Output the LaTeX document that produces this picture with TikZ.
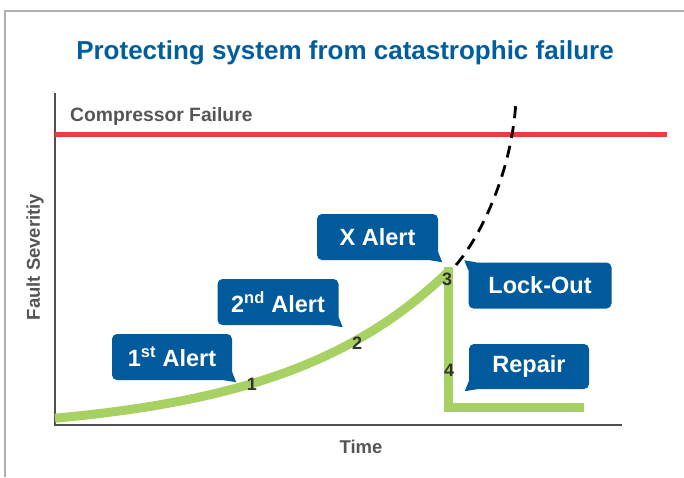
\documentclass[tikz,border=0pt]{standalone}
\usepackage{fontspec}
\setmainfont{Liberation Sans}
\definecolor{titleblue}{RGB}{0,94,160}
\definecolor{boxblue}{RGB}{0,90,156}
\definecolor{curvegreen}{RGB}{168,209,99}
\definecolor{failred}{RGB}{238,59,63}
\definecolor{labelgray}{RGB}{85,85,85}
\definecolor{axisgray}{RGB}{80,80,80}
\definecolor{framegray}{RGB}{175,175,175}
\definecolor{numgray}{RGB}{50,50,50}
\tikzset{
  bubble/.style={fill=boxblue, rounded corners=5pt, inner sep=0pt, minimum height=46pt,
    text=white, font=\bfseries\fontsize{23.5}{27}\selectfont},
  tailfill/.style={fill=boxblue},
  axislabel/.style={text=labelgray, font=\bfseries\fontsize{18.5}{21}\selectfont, inner sep=0pt},
  stepnum/.style={text=numgray, font=\bfseries\fontsize{18}{21}\selectfont, inner sep=0pt},
  greenline/.style={draw=curvegreen, line width=9pt},
}
\begin{document}
\begin{tikzpicture}[x=1pt,y=-1pt]
\useasboundingbox (0,0) rectangle (684,477);
% frame
\draw[framegray, line width=1.3pt] (5,477) -- (5,11) -- (684,11);
% title
\node[anchor=base, text=titleblue, font=\bfseries\fontsize{26}{30}\selectfont, inner sep=0pt] (title) at (345,59) {Protecting system from catastrophic failure};
% axes
\coordinate (ytop) at (55,93);
\coordinate (origin) at (55,425);
\coordinate (xend) at (622,425);
\draw[axisgray, line width=1.5pt] (ytop) -- (origin) -- (xend);
% failure line
\coordinate (redL) at (55,134);
\coordinate (redR) at (667,134);
\draw[failred, line width=5pt] (redL) -- (redR);
\node[axislabel, anchor=base west, font=\bfseries\fontsize{19.3}{22}\selectfont] (comp) at (70,121) {Compressor Failure};
% axis labels
\node[axislabel, anchor=base] (time) at (361,453) {Time};
\node[axislabel, rotate=90] (fault) at (35,257) {Fault Severitiy};
% green curve
\coordinate (peak) at (448,273);
\coordinate (bottom) at (448,407);
\coordinate (flatend) at (584,407);
\draw[greenline] plot[domain=55:448, samples=80] (\x, {418-15.5*(exp(0.006*(\x-57))-1)});
\draw[greenline] ([yshift=6pt]peak) -- (bottom) -- (flatend);
% dashed extrapolation
\coordinate (dtop) at (516,100);
\draw[black, line width=2.8pt, dash pattern=on 12pt off 8pt] ([xshift=8pt,yshift=8pt]peak) .. controls (478,240) and (512,175) .. (dtop);
% step numbers
\node[stepnum] (n1) at (252,384) {1};
\node[stepnum] (n2) at (357,343) {2};
\node[stepnum] (n3) at (447,279) {3};
\node[stepnum] (n4) at (449,370) {4};
% bubbles
\node[bubble, minimum width=120pt] (a1) at (172,357) {1\textsuperscript{st} Alert};
\fill[tailfill] ([xshift=-8pt]a1.south east) -- ([yshift=8pt]a1.south east) -- ([xshift=4pt,yshift=-2pt]a1.south east) -- cycle;
\node[bubble, minimum width=121pt] (a2) at (278,302) {2\textsuperscript{nd} Alert};
\fill[tailfill] ([xshift=-8pt]a2.south east) -- ([yshift=8pt]a2.south east) -- ([xshift=4pt,yshift=-2pt]a2.south east) -- cycle;
\node[bubble, minimum width=121pt] (ax) at (377.5,237) {X Alert};
\fill[tailfill] ([xshift=-8pt]ax.south east) -- ([yshift=8pt]ax.south east) -- ([xshift=4pt,yshift=-2pt]ax.south east) -- cycle;
\node[bubble, minimum width=143pt] (lo) at (540,285.5) {Lock-Out};
\fill[tailfill] ([xshift=8pt]lo.north west) -- ([yshift=-8pt]lo.north west) -- ([xshift=-4pt,yshift=2pt]lo.north west) -- cycle;
\node[bubble, minimum width=120pt, minimum height=45pt] (rp) at (529,366.5) {Repair};
\fill[tailfill] ([xshift=8pt]rp.south west) -- ([yshift=8pt]rp.south west) -- ([xshift=-4pt,yshift=-2pt]rp.south west) -- cycle;
\end{tikzpicture}
\end{document}
